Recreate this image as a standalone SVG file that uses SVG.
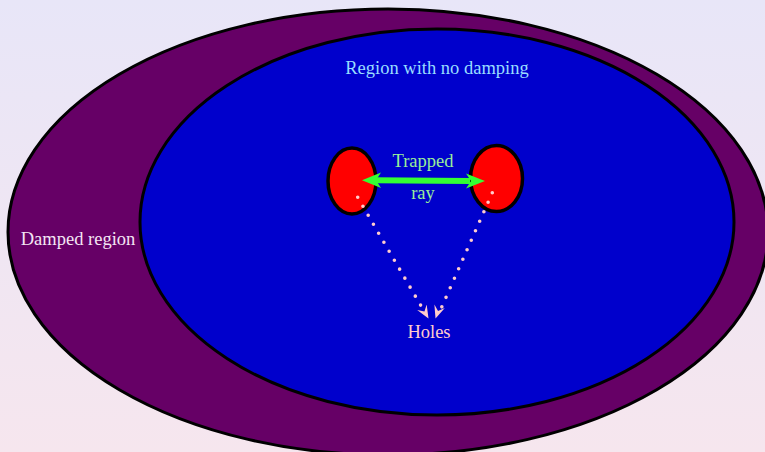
<svg xmlns="http://www.w3.org/2000/svg" width="765" height="452" viewBox="0 0 765 452">
<defs>
<linearGradient id="bg" x1="0" y1="0" x2="0" y2="1">
<stop offset="0" stop-color="#e8e6f8"/>
<stop offset="1" stop-color="#f6e6ee"/>
</linearGradient>
<marker id="ph" markerUnits="userSpaceOnUse" viewBox="0 0 14 14" refX="13" refY="7" markerWidth="14" markerHeight="14" orient="auto">
<path d="M0,1.5 L13,7 L0,12.5 L5,7 Z" fill="#ffcccc"/>
</marker>
<style>
.t{font-family:"Liberation Serif","Times New Roman",serif;font-size:18.5px;text-anchor:middle}
.dot{fill:none;stroke:#ffcccc;stroke-width:3.6;stroke-linecap:round;stroke-dasharray:0 10.4}
</style>
</defs>
<rect width="765" height="452" fill="url(#bg)"/>
<g id="damped">
<ellipse cx="388" cy="232" rx="380" ry="223" fill="#660066" stroke="#000" stroke-width="3"/>
<text class="t" x="78" y="245" fill="#f4e6f4">Damped region</text>
</g>
<g id="nodamping">
<ellipse cx="437" cy="222" rx="297" ry="193" fill="#0000cc" stroke="#000" stroke-width="3"/>
<text class="t" x="437" y="74" fill="#99ddff">Region with no damping</text>
</g>
<g id="leftblob">
<ellipse cx="352" cy="181" rx="24" ry="33" fill="#ff0000" stroke="#000" stroke-width="3.5"/>
</g>
<g id="rightblob">
<ellipse cx="496.5" cy="178.5" rx="26" ry="33" fill="#ff0000" stroke="#000" stroke-width="3.5"/>
</g>
<g id="connectors">
<line x1="375" y1="180.3" x2="470" y2="181" stroke="#33ff33" stroke-width="6"/>
<path d="M362,180.2 L381,172.5 L376,180.3 L381,188 Z" fill="#33ff33"/>
<path d="M485,181 L466,173.5 L471,181 L466,188.5 Z" fill="#33ff33"/>
<line class="dot" x1="357.7" y1="197.3" x2="424" y2="311"/>
<path d="M420,304 L428.5,318.5" stroke="none" fill="none" marker-end="url(#ph)"/>
<line class="dot" x1="492.3" y1="192.7" x2="440" y2="311"/>
<path d="M440,305 L435.5,318.5" stroke="none" fill="none" marker-end="url(#ph)"/>
</g>
<g id="labels">
<text class="t" x="423" y="167" fill="#99ee99">Trapped</text>
<text class="t" x="423" y="199" fill="#99ee99">ray</text>
<text class="t" x="429" y="338" fill="#ffcccc">Holes</text>
</g>
</svg>
